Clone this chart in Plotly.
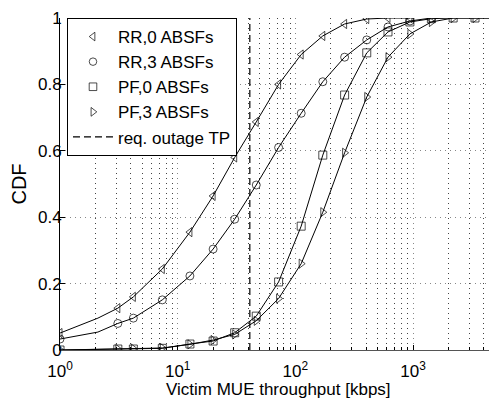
import plotly.graph_objects as go

# ---- data ----
X_RR0 = [1, 2.1, 3.1, 4.2, 7.4, 12.7, 20, 30.5, 46.5, 72, 112, 171, 262, 404, 612, 940]
Y_RR0 = [0.051, 0.096, 0.126, 0.160, 0.244, 0.355, 0.464, 0.580, 0.687, 0.800, 0.890, 0.946, 0.982, 0.997, 1.0, 1.0]

X_RR3 = [1, 2.1, 3.1, 4.2, 7.4, 12.7, 20, 30.5, 46.5, 72, 112, 171, 262, 404, 612, 940, 1430]
Y_RR3 = [0.033, 0.054, 0.080, 0.096, 0.151, 0.223, 0.304, 0.394, 0.497, 0.610, 0.713, 0.808, 0.882, 0.934, 0.973, 0.991, 1.0]

X_PF0 = [1, 2.1, 3.1, 4.2, 7.4, 12.7, 20, 30.5, 46.5, 72, 112, 171, 262, 404, 612, 940, 1430, 2190, 3360, 5000]
Y_PF0 = [0.0, 0.002, 0.003, 0.003, 0.005, 0.018, 0.027, 0.052, 0.102, 0.205, 0.373, 0.587, 0.768, 0.895, 0.958, 0.988, 0.998, 1.0, 1.0, 1.0]

X_PF3 = [1, 2.1, 3.1, 4.2, 7.4, 12.7, 20, 30.5, 46.5, 72, 112, 171, 262, 404, 612, 940, 1430, 2190, 3360, 5000]
Y_PF3 = [0.0, 0.002, 0.003, 0.004, 0.006, 0.017, 0.030, 0.047, 0.088, 0.155, 0.260, 0.415, 0.594, 0.762, 0.882, 0.952, 0.988, 1.0, 1.0, 1.0]

NO_MARKER_X = 2.1  # line kink point without marker
REQ_TP = 41
NAMES = ["RR,0 ABSFs", "RR,3 ABSFs", "PF,0 ABSFs", "PF,3 ABSFs"]
SYMBOLS = ["triangle-left-open", "circle-open", "square-open", "triangle-right-open"]
XTICKS = [1, 10, 100, 1000]
XTICK_TEXT = ["10<sup>0</sup>", "10<sup>1</sup>", "10<sup>2</sup>", "10<sup>3</sup>"]
YTICKS = [0, 0.2, 0.4, 0.6, 0.8, 1.0]
YTICK_TEXT = ["0", "0.2", "0.4", "0.6", "0.8", "1"]

FONT = "Liberation Sans, Arial, sans-serif"

fig = go.Figure()
series = [(X_RR0, Y_RR0), (X_RR3, Y_RR3), (X_PF0, Y_PF0), (X_PF3, Y_PF3)]
for (xs, ys), name, sym in zip(series, NAMES, SYMBOLS):
    fig.add_trace(go.Scatter(x=xs, y=ys, mode="lines", line=dict(color="black", width=1),
                             showlegend=False, hoverinfo="skip"))
for (xs, ys), name, sym in zip(series, NAMES, SYMBOLS):
    sizes = [0 if x == NO_MARKER_X else 8 for x in xs]
    fig.add_trace(go.Scatter(x=xs, y=ys, mode="markers", name=name,
                             marker=dict(symbol=sym, size=sizes, color="black",
                                         line=dict(color="black", width=1))))
fig.add_trace(go.Scatter(x=[REQ_TP, REQ_TP], y=[0, 1], mode="lines", name="req. outage TP",
                         line=dict(color="black", width=1.2, dash="7px,4px")))

minor_vals = [m * 10 ** d for d in range(0, 4) for m in range(2, 10)]

# page body has an 8px margin, so the figure is sized/offset to compensate
fig.update_layout(
    width=489, height=392,
    margin=dict(l=52, r=0, t=10, b=50),
    paper_bgcolor="white", plot_bgcolor="white",
    font=dict(family=FONT, size=17, color="black"),
    legend=dict(x=0.016, y=1.0, xanchor="left", yanchor="top",
                bgcolor="white", bordercolor="black", borderwidth=1,
                font=dict(size=17), tracegroupgap=0, itemwidth=40),
    showlegend=True,
    annotations=[dict(text="Victim MUE throughput [kbps]", xref="paper", yref="paper",
                      x=0.5, y=-0.118, xanchor="center", yanchor="middle",
                      showarrow=False, font=dict(size=17))],
)
fig.update_xaxes(type="log", range=[0, 3.713],
                 tickvals=XTICKS, ticktext=XTICK_TEXT,
                 ticks="inside", ticklen=5, tickcolor="black",
                 showline=True, linecolor="#555", linewidth=1,
                 showgrid=True, gridcolor="#888", griddash="1px,4px", gridwidth=1,
                 minor=dict(tickvals=minor_vals, ticks="inside", ticklen=3, tickcolor="black",
                            showgrid=True, gridcolor="#444", griddash="1px,4px", gridwidth=1),
                 zeroline=False, ticklabelstandoff=6)
fig.update_yaxes(range=[0, 1], tickvals=YTICKS, ticktext=YTICK_TEXT,
                 ticks="inside", ticklen=5, tickcolor="black",
                 showline=True, linecolor="black", linewidth=1,
                 showgrid=True, gridcolor="#888", griddash="1px,4px", gridwidth=1,
                 zeroline=False, ticklabelstandoff=-6,
                 title=dict(text="CDF", standoff=9))

fig.write_html("out.html")
